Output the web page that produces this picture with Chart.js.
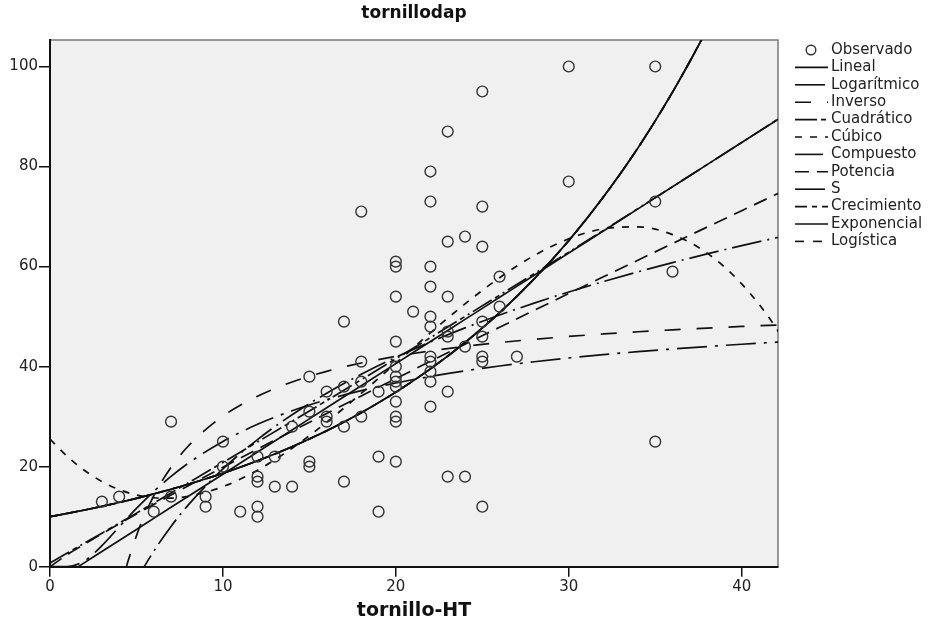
<!DOCTYPE html>
<html>
<head>
<meta charset="utf-8">
<title>tornillodap</title>
<script src="https://cdn.jsdelivr.net/npm/chart.js@4.4.0/dist/chart.umd.min.js"></script>
<style>
    html, body { margin: 0; padding: 0; background: #fff; }
</style>
</head>
<body>
<canvas id="curveChart" width="930" height="622"></canvas>
<script>
// observed cases (tornillo-HT, tornillodap)
var obsX = [3, 4, 6, 7, 7, 9, 9, 10, 10, 11, 12, 12, 12, 12, 12, 13, 13, 14, 14, 15, 15, 15, 15, 16, 16, 16,
    17, 17, 17, 17, 18, 18, 18, 18, 19, 19, 19, 20, 20, 20, 20, 20, 20, 20, 20, 20, 20, 20, 20, 21,
    22, 22, 22, 22, 22, 22, 22, 22, 22, 22, 22, 23, 23, 23, 23, 23, 23, 23, 24, 24, 24,
    25, 25, 25, 25, 25, 25, 25, 25, 26, 26, 27, 30, 30, 35, 35, 35, 36];
var obsY = [13, 14, 11, 29, 14, 14, 12, 25, 20, 11, 22, 18, 17, 12, 10, 22, 16, 16, 28, 38, 31, 21, 20, 35, 30, 29,
    49, 36, 28, 17, 71, 41, 37, 30, 35, 22, 11, 61, 60, 54, 45, 40, 38, 37, 36, 33, 30, 29, 21, 51,
    79, 73, 60, 56, 50, 48, 42, 41, 39, 37, 32, 87, 65, 54, 47, 46, 35, 18, 66, 44, 18,
    95, 72, 64, 49, 46, 42, 41, 12, 58, 52, 42, 100, 77, 100, 73, 25, 59];

// fitted curves, sampled along x
var fitX = [0, 1, 2, 3, 4, 5, 6, 7, 8, 10, 12, 14, 16, 18, 20, 22, 24, 26, 28, 30, 32, 34, 36, 38, 40, 42, 44];
var linealY = [-3.6, -1.39, 0.82, 3.03, 5.24, 7.45, 9.66, 11.87, 14.08, 18.5, 22.92, 27.34, 31.76, 36.18, 40.6,
    45.02, 49.44, 53.86, 58.28, 62.7, 67.12, 71.54, 75.96, 80.38, 84.8, 89.22, 93.64];
var logaritmicoY = [null, null, null, -19.2, -9.96, -2.77, 3.09, 8.06, 12.36, 19.55, 25.42, 30.38, 34.68, 38.47,
    41.86, 44.93, 47.74, 50.31, 52.7, 54.92, 57.0, 58.95, 60.79, 62.53, 64.18, 65.76, 67.25];
var inversoY = [null, null, null, -25.67, -5.75, 6.2, 14.17, 19.86, 24.13, 30.1, 34.08, 36.93, 39.06, 40.72,
    42.05, 43.14, 44.04, 44.81, 45.46, 46.03, 46.53, 46.97, 47.36, 47.71, 48.03, 48.31, 48.57];
var cuadraticoY = [0.73, 2.72, 4.71, 6.7, 8.71, 10.71, 12.73, 14.75, 16.78, 20.85, 24.95, 29.06, 33.21, 37.38,
    41.57, 45.79, 50.03, 54.29, 58.58, 62.89, 67.23, 71.59, 75.97, 80.38, 84.81, 89.26, 93.74];
var cubicoY = [25.5, 22.04, 19.23, 17.03, 15.41, 14.34, 13.79, 13.71, 14.07, 16.0, 19.29, 23.68, 28.89, 34.66,
    40.7, 46.75, 52.54, 57.78, 62.21, 65.56, 67.56, 67.93, 66.39, 62.69, 56.54, 47.67, 35.8];
// compuesto, crecimiento, exponencial and logistica give the same curve
var exponencialY = [10, 10.65, 11.33, 12.06, 12.84, 13.67, 14.55, 15.49, 16.49, 18.68, 21.17, 23.99, 27.18, 30.8,
    34.9, 39.55, 44.82, 50.78, 57.54, 65.2, 73.89, 83.72, 94.87, 107.5, 121.8, 138.0, 156.4];
var potenciaY = [0, 2.39, 4.52, 6.57, 8.56, 10.51, 12.43, 14.32, 16.19, 19.88, 23.51, 27.09, 30.63, 34.14,
    37.61, 41.06, 44.49, 47.87, 51.26, 54.61, 57.96, 61.28, 64.6, 67.9, 71.17, 74.45, 77.7];
var sY = [0, 0.03, 1.17, 4.2, 7.96, 11.66, 15.04, 18.05, 20.7, 25.05, 28.46, 31.18, 33.38, 35.2,
    36.72, 38.03, 39.15, 40.12, 40.97, 41.72, 42.39, 42.99, 43.53, 44.02, 44.47, 44.88, 45.25];

var FONT = 'DejaVu Sans';
var INK = '#111';

function toPoints(xs, ys) {
    var out = [];
    for (var i = 0; i < xs.length; i++) {
        if (ys[i] !== null) out.push({x: xs[i], y: ys[i]});
    }
    return out;
}

var fits = [
    {label: 'Lineal', y: linealY, dash: []},
    {label: 'Logarítmico', y: logaritmicoY, dash: [30, 6, 2, 6]},
    {label: 'Inverso', y: inversoY, dash: [16, 16]},
    {label: 'Cuadrático', y: cuadraticoY, dash: [22, 4, 5, 4, 2, 4]},
    {label: 'Cúbico', y: cubicoY, dash: [7, 8]},
    {label: 'Compuesto', y: exponencialY, dash: [28, 5, 2, 5]},
    {label: 'Potencia', y: potenciaY, dash: [14, 8]},
    {label: 'S', y: sY, dash: [30, 8, 3, 8]},
    {label: 'Crecimiento', y: exponencialY, dash: [12, 5, 5, 5]},
    {label: 'Exponencial', y: exponencialY, dash: []},
    {label: 'Logística', y: exponencialY, dash: [9, 9]}
];

var datasets = [{
    label: 'Observado',
    data: toPoints(obsX, obsY),
    showLine: false,
    pointStyle: 'circle',
    pointRadius: 5.4,
    pointBorderWidth: 1.4,
    pointBorderColor: '#333',
    pointBackgroundColor: 'rgba(0,0,0,0)'
}];
fits.forEach(function (f) {
    datasets.push({
        label: f.label,
        data: toPoints(fitX, f.y),
        showLine: true,
        pointRadius: 0,
        borderColor: INK,
        borderWidth: 1.7,
        borderDash: f.dash,
        cubicInterpolationMode: 'monotone',
        fill: false
    });
});

// plot background and the grey top/right frame
var framePlugin = {
    id: 'frame',
    beforeDraw: function (chart) {
        var ctx = chart.ctx, a = chart.chartArea;
        ctx.save();
        ctx.fillStyle = '#fff';
        ctx.fillRect(0, 0, chart.width, chart.height);
        ctx.fillStyle = '#f0f0f0';
        ctx.fillRect(a.left, a.top, a.right - a.left, a.bottom - a.top);
        ctx.strokeStyle = '#7a7a7a';
        ctx.lineWidth = 1.5;
        ctx.beginPath();
        ctx.moveTo(a.left, a.top);
        ctx.lineTo(a.right, a.top);
        ctx.lineTo(a.right, a.bottom);
        ctx.stroke();
        ctx.restore();
    }
};

// legend column on the right, one row per dataset
var sideLegend = {
    id: 'sideLegend',
    afterDraw: function (chart) {
        var ctx = chart.ctx;
        var x0 = 795, x1 = 828, tx = 831, y0 = 50, step = 17.4;
        ctx.save();
        ctx.font = '15px "' + FONT + '"';
        ctx.fillStyle = '#222';
        ctx.textBaseline = 'middle';
        chart.data.datasets.forEach(function (ds, i) {
            var y = y0 + i * step;
            ctx.strokeStyle = INK;
            if (!ds.showLine) {
                ctx.lineWidth = 1.4;
                ctx.strokeStyle = '#333';
                ctx.beginPath();
                ctx.arc(811, y, 4.8, 0, Math.PI * 2);
                ctx.stroke();
            } else {
                ctx.lineWidth = 1.6;
                ctx.setLineDash(ds.borderDash);
                ctx.beginPath();
                ctx.moveTo(x0, y);
                ctx.lineTo(x1, y);
                ctx.stroke();
                ctx.setLineDash([]);
            }
            ctx.fillText(ds.label, tx, y);
        });
        ctx.restore();
    }
};

var tickFont = {family: FONT, size: 15};

new Chart(document.getElementById('curveChart').getContext('2d'), {
    type: 'scatter',
    data: {datasets: datasets},
    plugins: [framePlugin, sideLegend],
    options: {
        responsive: false,
        animation: false,
        layout: {padding: {left: 0, right: 152, top: 0, bottom: 0}},
        plugins: {
            legend: {display: false},
            tooltip: {enabled: false},
            title: {
                display: true,
                text: 'tornillodap',
                fullSize: false,
                color: INK,
                font: {family: FONT, size: 17, weight: 'bold'},
                padding: {top: 3, bottom: 16.6}
            }
        },
        scales: {
            x: {
                type: 'linear',
                min: 0,
                max: 42.1,
                afterFit: function (scale) { scale.height = 55.3; },
                ticks: {stepSize: 10, includeBounds: false, maxRotation: 0, color: '#222', font: tickFont, padding: 1},
                grid: {drawOnChartArea: false, drawTicks: true, tickLength: 10, color: INK, lineWidth: 1.5},
                border: {display: true, color: INK, width: 2},
                title: {
                    display: true,
                    text: 'tornillo-HT',
                    color: INK,
                    font: {family: FONT, size: 19, weight: 'bold'},
                    padding: {top: 0, bottom: 0}
                }
            },
            y: {
                type: 'linear',
                min: 0,
                max: 105.3,
                afterFit: function (scale) { scale.width = 50; },
                ticks: {stepSize: 20, includeBounds: false, color: '#222', font: tickFont, padding: 1},
                grid: {drawOnChartArea: false, drawTicks: true, tickLength: 11, color: INK, lineWidth: 1.5},
                border: {display: true, color: INK, width: 2}
            }
        }
    }
});
</script>
</body>
</html>
